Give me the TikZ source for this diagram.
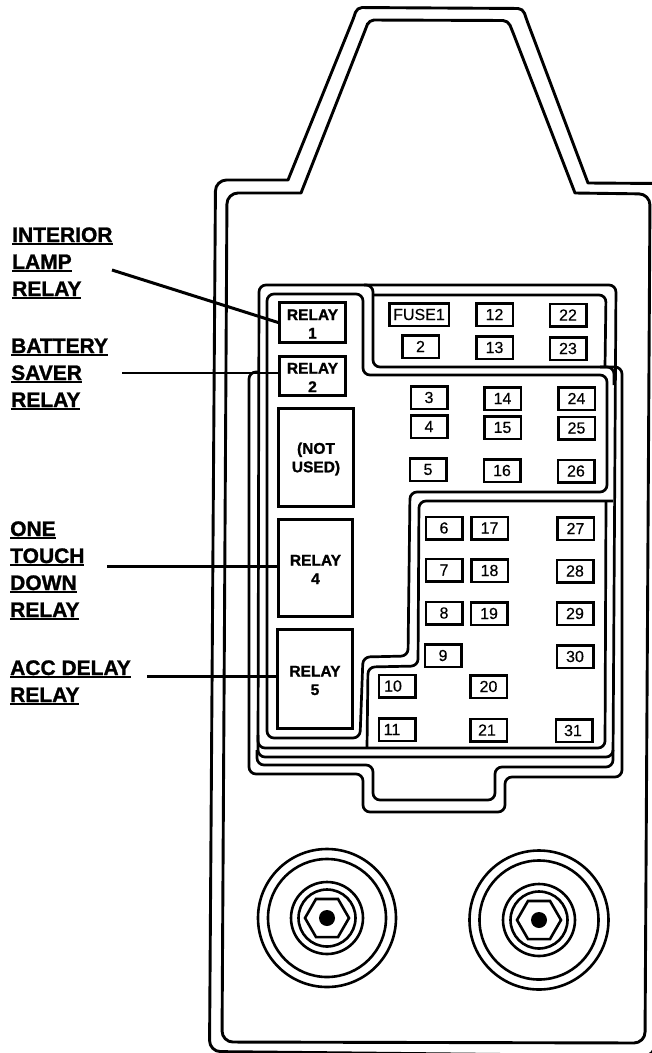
\documentclass[tikz,border=0pt]{standalone}
\usepackage{fontspec}
\setmainfont[FakeBold=0.4,BoldFeatures={FakeBold=1.2}]{Liberation Sans}
\usepackage{tikz}
\usetikzlibrary{positioning,calc}
\newcommand{\lbl}[1]{\leavevmode\vtop{\hbox{#1}\kern1.2pt\hrule height 1.8pt}}

\begin{document}
\begin{tikzpicture}[
  x=1pt, y=-1pt,
  frame/.style={line width=2.9pt, line join=round},
  panel/.style={line width=2.7pt, rounded corners=7pt},
  relay/.style={draw, line width=2.7pt, inner sep=0pt},
  relaytext/.style={yshift=-1.5pt, inner sep=0pt, align=center, font=\bfseries\fontsize{15.5}{18.5}\selectfont},
  fuse/.style={draw, line width=2.5pt, inner sep=0pt, minimum width=36.5pt, minimum height=22.5pt, font=\fontsize{16}{18}\selectfont},
  label/.style={anchor=base west, inner sep=0pt, align=left, font=\bfseries\fontsize{21}{27}\selectfont},
  lead/.style={line width=3pt},
  ring/.style={line width=2.6pt},
]
\path[use as bounding box, clip] (0,0) rectangle (652,1053);

\draw[frame] (660,183.5) -- (588,183) [rounded corners=5pt] -- (526,18) -- (523,8.5) -- (357,7.5) -- (354,17) [sharp corners] -- (288,180) [rounded corners=11pt] -- (215.5,180) -- (209.5,1051.5) -- (655,1056) -- (655,1030);
\draw[frame] (575,193) [rounded corners=11pt] -- (650,194) -- (645,1043) -- (222,1042) -- (227,193) [sharp corners] -- (301,193) [rounded corners=5pt] -- (366,28) -- (369,20) -- (508,20.5) -- (512,30) [sharp corners] -- cycle;

\draw[panel] (300,285) -- (616,285) -- (613,757) -- (258,757) -- (259,285) -- cycle;
\draw[panel] (300,294) -- (363,294) -- (363,375) -- (607,375) -- (607,492) -- (410,492) -- (408,656) -- (363,657) -- (360,738) -- (267,738) -- (267,294) -- cycle;
\draw[panel] (374,295) -- (606,295) -- (605,367);
\draw[panel] (258,372) -- (249,372) -- (249,774) -- (363,774) -- (363,812) -- (505,812) -- (505,777) -- (622,777) -- (622,367) -- (373,367) -- (373,285) -- (364,285);
\draw[panel] (600,367) -- (614,367) -- (614,385);
\draw[panel] (613,501) -- (419,501) -- (418,666) -- (368,667) -- (367,748);
\draw[panel] (258,735) -- (258,748) -- (605,748) -- (606,501);
\draw[panel] (257,750) -- (257,765) -- (373,765) -- (373,800) -- (495,800) -- (495,767) -- (613,767) -- (613,750);

\node[relay, minimum width=66pt, minimum height=40pt] (relay1) at (312.5,322.5) {};
\node[relay, minimum width=66pt, minimum height=39pt] (relay2) at (312.5,376) {};
\node[relay, minimum width=75pt, minimum height=98pt] (notused) at (316,457.5) {};
\node[relay, minimum width=74pt, minimum height=97pt] (relay4) at (315.5,568) {};
\node[relay, minimum width=75pt, minimum height=99pt] (relay5) at (315,679) {};
\node[relaytext] (relay1txt) at (relay1) {RELAY\\1};
\node[relaytext] (relay2txt) at (relay2) {RELAY\\2};
\node[relaytext] (notusedtxt) at (notused) {(NOT\\USED)};
\node[relaytext] (relay4txt) at (relay4) {RELAY\\4};
\node[relaytext] (relay5txt) at (relay5) {RELAY\\5};

\node[fuse, minimum width=59.5pt] (fuse1) at (419,314.5) {FUSE1};
\node[fuse] (f2) at (420.5,346.5) {2};
\node[fuse] (f3) at (429,397.5) {3};
\node[fuse] (f4) at (429,426.5) {4};
\node[fuse] (f5) at (428,469.5) {5};
\node[fuse] (f6) at (444,528) {6};
\node[fuse] (f7) at (444,570) {7};
\node[fuse] (f8) at (444,613) {8};
\node[fuse] (f9) at (443,655.5) {9};
\node[fuse] (f10) at (397,686) {10\kern8pt};
\node[fuse] (f11) at (397,729.5) {11\kern10pt};
\node[fuse] (f12) at (494.5,314.5) {12};
\node[fuse] (f13) at (494.5,347.5) {13};
\node[fuse] (f14) at (502.5,398.5) {14};
\node[fuse] (f15) at (502.5,427.5) {15};
\node[fuse] (f16) at (502,470.5) {16};
\node[fuse] (f17) at (489.5,528) {17};
\node[fuse] (f18) at (489.5,570.5) {18};
\node[fuse] (f19) at (489,613.5) {19};
\node[fuse] (f20) at (488.5,686.5) {20};
\node[fuse] (f21) at (488.5,730) {21\kern3pt};
\node[fuse] (f22) at (568,315) {22};
\node[fuse] (f23) at (568,348.5) {23};
\node[fuse] (f24) at (576.5,398.5) {24};
\node[fuse] (f25) at (576.5,428) {25};
\node[fuse] (f26) at (576,471) {26};
\node[fuse] (f27) at (575.5,528.5) {27};
\node[fuse] (f28) at (575,571) {28};
\node[fuse] (f29) at (575,613.5) {29};
\node[fuse] (f30) at (575,656.5) {30};
\node[fuse] (f31) at (574,730.5) {31\kern2pt};

\node[label] (interior) at (12,296) {\lbl{INTERIOR}\\\lbl{LAMP}\\\lbl{RELAY}};
\node[label] (battery) at (11,407) {\lbl{BATTERY}\\\lbl{SAVER}\\\lbl{RELAY}};
\node[label] (onetouch) at (10,617) {\lbl{ONE}\\\lbl{TOUCH}\\\lbl{DOWN}\\\lbl{RELAY}};
\node[label] (accdelay) at (10,702) {\lbl{ACC DELAY}\\\lbl{RELAY}};

\coordinate (leadA) at (112,270);
\coordinate (leadB) at (122,373);
\coordinate (leadC) at (107,566.5);
\coordinate (leadD) at (147,676);
\draw[lead] (leadA) -- (relay1.west);
\draw[lead, line width=2.5pt] (leadB) -- (leadB -| relay2.west);
\draw[lead] (leadC) -- (leadC -| relay4.west);
\draw[lead] (leadD) -- (leadD -| relay5.west);

\coordinate (mountL) at (327,918);
\draw[ring] (mountL) circle (69);
\draw[ring] (mountL) circle (59);
\draw[ring] (mountL) circle (36);
\draw[ring] (mountL) circle (28.5);
\draw[ring] (mountL) +(0:22) -- +(60:22) -- +(120:22) -- +(180:22) -- +(240:22) -- +(300:22) -- cycle;
\fill (mountL) circle (8);

\coordinate (mountR) at (539,920);
\draw[ring] (mountR) circle (69.5);
\draw[ring] (mountR) circle (59.5);
\draw[ring] (mountR) circle (36);
\draw[ring] (mountR) circle (28.5);
\draw[ring] (mountR) +(0:22) -- +(60:22) -- +(120:22) -- +(180:22) -- +(240:22) -- +(300:22) -- cycle;
\fill (mountR) circle (8);
\end{tikzpicture}
\end{document}
